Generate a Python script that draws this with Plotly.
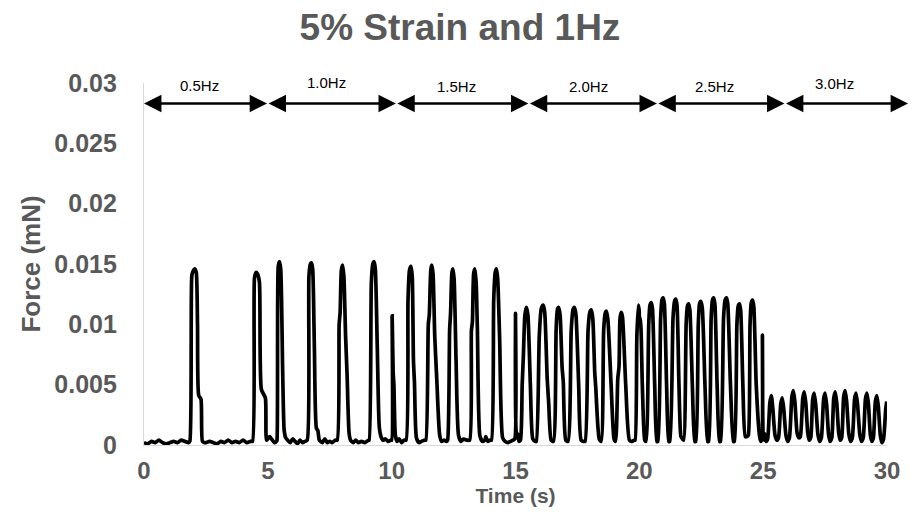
import plotly.graph_objects as go

# Force trace (mN) against time (s), one list of (t, F) samples per stimulation band
band_05hz = [
    (0.00, 0.0002), (0.15, 0.0001), (0.30, 0.0003), (0.45, 0.0002), (0.60, 0.0004),
    (0.75, 0.0002), (0.90, 0.0001), (1.05, 0.0002), (1.20, 0.0003), (1.35, 0.0002),
    (1.50, 0.0004), (1.65, 0.0003), (1.80, 0.0002), (1.85, 0.0003), (1.93, 0.0140),
    (1.98, 0.0144), (2.05, 0.0146), (2.11, 0.0143), (2.16, 0.0100), (2.21, 0.0041),
    (2.30, 0.0038), (2.36, 0.0003), (2.45, 0.0002), (2.50, 0.0002), (2.65, 0.0003),
    (2.80, 0.0002), (2.95, 0.0001), (3.10, 0.0003), (3.25, 0.0002), (3.40, 0.0004),
    (3.55, 0.0002), (3.70, 0.0003), (3.85, 0.0002), (4.00, 0.0004), (4.15, 0.0002),
    (4.30, 0.0003), (4.38, 0.0003), (4.46, 0.0138), (4.52, 0.0143), (4.58, 0.0142),
    (4.66, 0.0135), (4.74, 0.0046), (4.90, 0.0039), (4.95, 0.0004),
]

band_10hz = [
    (5.07, 0.0007), (5.15, 0.0005), (5.27, 0.0002), (5.35, 0.0003), (5.37, 0.0004),
    (5.42, 0.0148), (5.47, 0.0152), (5.52, 0.0146), (5.60, 0.0060), (5.66, 0.0012),
    (5.72, 0.0006), (5.80, 0.0004), (5.90, 0.0002), (6.00, 0.0005), (6.10, 0.0003),
    (6.20, 0.0001), (6.30, 0.0004), (6.40, 0.0002), (6.50, 0.0003), (6.59, 0.0004),
    (6.66, 0.0140), (6.72, 0.0150), (6.76, 0.0151), (6.81, 0.0146), (6.88, 0.0080),
    (6.96, 0.0014), (7.02, 0.0012), (7.08, 0.0004), (7.20, 0.0002), (7.30, 0.0005),
    (7.40, 0.0002), (7.50, 0.0003), (7.60, 0.0002), (7.72, 0.0004), (7.80, 0.0004),
    (7.88, 0.0100), (7.92, 0.0110), (7.97, 0.0145), (8.02, 0.0149), (8.07, 0.0140),
    (8.14, 0.0090), (8.20, 0.0058), (8.28, 0.0010), (8.34, 0.0004), (8.45, 0.0002),
    (8.55, 0.0004), (8.65, 0.0002), (8.78, 0.0003), (8.92, 0.0002), (9.06, 0.0004),
    (9.09, 0.0004), (9.18, 0.0135), (9.24, 0.0150), (9.29, 0.0152), (9.34, 0.0146),
    (9.42, 0.0080), (9.50, 0.0015), (9.57, 0.0007), (9.65, 0.0004), (9.75, 0.0005),
    (9.85, 0.0003), (9.97, 0.0004),
]

band_15hz = [
    (10.00, 0.0004), (10.02, 0.0107), (10.06, 0.0060), (10.09, 0.0050), (10.15, 0.0008),
    (10.22, 0.0003), (10.30, 0.0005), (10.40, 0.0002), (10.50, 0.0004), (10.58, 0.0004),
    (10.66, 0.0120), (10.72, 0.0145), (10.78, 0.0148), (10.83, 0.0140), (10.88, 0.0070),
    (10.92, 0.0052), (11.00, 0.0006), (11.10, 0.0002), (11.20, 0.0003), (11.34, 0.0004),
    (11.38, 0.0004), (11.48, 0.0100), (11.52, 0.0108), (11.58, 0.0145), (11.62, 0.0149),
    (11.67, 0.0142), (11.74, 0.0090), (11.82, 0.0055), (11.94, 0.0008), (12.02, 0.0003),
    (12.12, 0.0004), (12.22, 0.0003), (12.26, 0.0004), (12.34, 0.0095), (12.38, 0.0110),
    (12.43, 0.0142), (12.47, 0.0146), (12.52, 0.0138), (12.60, 0.0070), (12.70, 0.0008),
    (12.80, 0.0003), (12.90, 0.0005), (13.05, 0.0004), (13.15, 0.0004), (13.22, 0.0095),
    (13.26, 0.0102), (13.31, 0.0142), (13.36, 0.0146), (13.41, 0.0135), (13.46, 0.0097),
    (13.56, 0.0008), (13.66, 0.0003), (13.76, 0.0004), (13.80, 0.0007), (13.88, 0.0003),
    (13.98, 0.0004), (14.03, 0.0004), (14.12, 0.0120), (14.18, 0.0143), (14.23, 0.0146),
    (14.28, 0.0138), (14.36, 0.0088), (14.48, 0.0006), (14.58, 0.0003), (14.70, 0.0002),
    (14.80, 0.0003), (14.90, 0.0004), (14.97, 0.0005),
]

band_20hz = [
    (15.00, 0.0109), (15.04, 0.0010), (15.09, 0.0009), (15.14, 0.0003), (15.20, 0.0004),
    (15.27, 0.0050), (15.32, 0.0075), (15.38, 0.0108), (15.44, 0.0114), (15.50, 0.0108),
    (15.60, 0.0050), (15.70, 0.0005), (15.80, 0.0003), (15.84, 0.0003), (15.96, 0.0090),
    (16.04, 0.0113), (16.12, 0.0116), (16.18, 0.0110), (16.28, 0.0055), (16.34, 0.0035),
    (16.44, 0.0004), (16.53, 0.0003), (16.64, 0.0095), (16.69, 0.0112), (16.74, 0.0114),
    (16.80, 0.0108), (16.88, 0.0065), (16.93, 0.0052), (17.03, 0.0004), (17.12, 0.0003),
    (17.25, 0.0095), (17.32, 0.0112), (17.38, 0.0114), (17.44, 0.0108), (17.55, 0.0050),
    (17.65, 0.0004), (17.75, 0.0003), (17.81, 0.0003), (17.93, 0.0095), (18.00, 0.0110),
    (18.06, 0.0112), (18.12, 0.0105), (18.20, 0.0060), (18.24, 0.0048), (18.38, 0.0005),
    (18.46, 0.0003), (18.56, 0.0095), (18.62, 0.0109), (18.67, 0.0111), (18.73, 0.0104),
    (18.86, 0.0050), (18.98, 0.0005), (19.04, 0.0003), (19.13, 0.0055), (19.18, 0.0065),
    (19.22, 0.0105), (19.27, 0.0110), (19.32, 0.0106), (19.45, 0.0050), (19.60, 0.0004),
    (19.70, 0.0003), (19.80, 0.0004), (19.83, 0.0004), (19.90, 0.0090), (19.96, 0.0116),
]

band_25hz = [
    (19.99, 0.0112), (20.01, 0.0104), (20.04, 0.0105), (20.12, 0.0050), (20.22, 0.0004),
    (20.27, 0.0003), (20.38, 0.0100), (20.43, 0.0116), (20.48, 0.0118), (20.53, 0.0113),
    (20.62, 0.0050), (20.71, 0.0003), (20.75, 0.0003), (20.86, 0.0105), (20.91, 0.0120),
    (20.96, 0.0122), (21.01, 0.0117), (21.10, 0.0050), (21.19, 0.0003), (21.23, 0.0003),
    (21.36, 0.0105), (21.42, 0.0119), (21.47, 0.0121), (21.52, 0.0116), (21.60, 0.0050),
    (21.68, 0.0007), (21.74, 0.0005), (21.79, 0.0004), (21.89, 0.0100), (21.94, 0.0115),
    (21.99, 0.0117), (22.04, 0.0112), (22.14, 0.0050), (22.24, 0.0003), (22.28, 0.0003),
    (22.38, 0.0100), (22.43, 0.0117), (22.48, 0.0119), (22.54, 0.0114), (22.65, 0.0050),
    (22.76, 0.0003), (22.80, 0.0003), (22.90, 0.0105), (22.95, 0.0120), (23.00, 0.0122),
    (23.05, 0.0117), (23.14, 0.0050), (23.24, 0.0003), (23.28, 0.0003), (23.40, 0.0105),
    (23.46, 0.0120), (23.52, 0.0122), (23.57, 0.0117), (23.68, 0.0050), (23.80, 0.0003),
    (23.84, 0.0003), (23.94, 0.0100), (23.99, 0.0115), (24.04, 0.0117), (24.09, 0.0112),
    (24.18, 0.0050), (24.28, 0.0007), (24.35, 0.0007), (24.40, 0.0008), (24.47, 0.0100),
    (24.52, 0.0118), (24.57, 0.0120), (24.62, 0.0115), (24.72, 0.0050), (24.85, 0.0008),
    (24.90, 0.0003), (24.95, 0.0005),
]

band_30hz = [
    (24.97, 0.0091), (25.00, 0.0008), (25.04, 0.0004), (25.08, 0.0009), (25.12, 0.0003),
    (25.18, 0.0005), (25.27, 0.0035), (25.33, 0.0041), (25.39, 0.0030), (25.48, 0.0008),
    (25.55, 0.0004), (25.62, 0.0006), (25.71, 0.0034), (25.77, 0.0039), (25.83, 0.0030),
    (25.92, 0.0008), (25.99, 0.0003), (26.06, 0.0006), (26.16, 0.0040), (26.22, 0.0045),
    (26.28, 0.0036), (26.37, 0.0010), (26.44, 0.0006), (26.50, 0.0007), (26.60, 0.0039),
    (26.66, 0.0044), (26.72, 0.0035), (26.80, 0.0010), (26.86, 0.0004), (26.92, 0.0006),
    (27.00, 0.0038), (27.06, 0.0043), (27.12, 0.0034), (27.21, 0.0009), (27.28, 0.0003),
    (27.35, 0.0006), (27.44, 0.0038), (27.50, 0.0043), (27.56, 0.0034), (27.64, 0.0009),
    (27.70, 0.0003), (27.77, 0.0006), (27.85, 0.0039), (27.91, 0.0044), (27.97, 0.0035),
    (28.05, 0.0010), (28.11, 0.0004), (28.17, 0.0006), (28.25, 0.0040), (28.31, 0.0045),
    (28.37, 0.0036), (28.46, 0.0009), (28.53, 0.0003), (28.60, 0.0006), (28.69, 0.0038),
    (28.75, 0.0043), (28.81, 0.0034), (28.90, 0.0009), (28.97, 0.0003), (29.04, 0.0006),
    (29.13, 0.0038), (29.19, 0.0043), (29.25, 0.0034), (29.33, 0.0008), (29.39, 0.0003),
    (29.45, 0.0006), (29.53, 0.0036), (29.59, 0.0041), (29.65, 0.0032), (29.73, 0.0008),
    (29.79, 0.0002), (29.86, 0.0005), (29.95, 0.0030), (29.99, 0.0036),
]

# Stimulation bands: edges in seconds and their labels
band_edges = [-0.06, 4.97, 10.17, 15.52, 20.71, 25.86, 30.85]
band_labels = ["0.5Hz", "1.0Hz", "1.5Hz", "2.0Hz", "2.5Hz", "3.0Hz"]
arrow_level = 0.0283

x_ticks = [0, 5, 10, 15, 20, 25, 30]
y_ticks = [0, 0.005, 0.01, 0.015, 0.02, 0.025, 0.03]
y_tick_text = ["0", "0.005", "0.01", "0.015", "0.02", "0.025", "0.03"]

samples = band_05hz + band_10hz + band_15hz + band_20hz + band_25hz + band_30hz
time_s = [t for t, _ in samples]
force_mn = [f for _, f in samples]

GREY = "#595959"
FONT = "Arial, Liberation Sans, sans-serif"

fig = go.Figure()
fig.add_trace(go.Scatter(
    x=time_s, y=force_mn, mode="lines",
    line=dict(color="black", width=3.7, shape="spline", smoothing=0.6),
    hoverinfo="skip", showlegend=False,
))

# Double-headed arrows spanning each band
for left, right in zip(band_edges[:-1], band_edges[1:]):
    fig.add_annotation(
        x=right, y=arrow_level, ax=left, ay=arrow_level,
        xref="x", yref="y", axref="x", ayref="y",
        text="", showarrow=True, arrowside="end+start",
        arrowhead=2, startarrowhead=2, arrowsize=1.45, startarrowsize=1.45,
        arrowwidth=2.4, arrowcolor="black", standoff=0, startstandoff=0,
    )

# Band labels above the arrows
label_x = [2.25, 7.36, 12.63, 17.93, 23.04, 27.86]
label_px = [85, 82, 87, 87, 87, 83]
for lx, py, txt in zip(label_x, label_px, band_labels):
    fig.add_annotation(
        x=lx, y=(445 - py) / 362, xref="x", yref="paper",
        text=txt, showarrow=False, yanchor="middle", xanchor="center",
        font=dict(family=FONT, size=15, color="black"),
    )

fig.update_layout(
    width=912, height=528,
    margin=dict(l=144, r=22, t=83, b=83),
    paper_bgcolor="white", plot_bgcolor="white",
    title=dict(
        text="5% Strain and 1Hz", x=460 / 912, xanchor="center",
        y=1 - 27 / 528, yanchor="middle",
        font=dict(family=FONT, size=37, color=GREY, weight="bold"),
    ),
    showlegend=False,
)
fig.update_xaxes(
    range=[0, 30], tickvals=x_ticks, ticks="", showgrid=False, zeroline=False,
    showline=True, linecolor="#d9d9d9", linewidth=1.3,
    tickfont=dict(family=FONT, size=24, color=GREY, weight="bold"),
    ticklabelstandoff=4,
    title=dict(text="Time (s)", standoff=0,
               font=dict(family=FONT, size=21, color=GREY, weight="bold")),
)
fig.update_yaxes(
    range=[0, 0.03], tickvals=y_ticks, ticktext=y_tick_text, ticks="",
    showgrid=False, zeroline=False,
    showline=True, linecolor="#d9d9d9", linewidth=1.3,
    tickfont=dict(family=FONT, size=25, color=GREY, weight="bold"),
    ticklabelstandoff=21,
    title=dict(text="Force (mN)", standoff=6,
               font=dict(family=FONT, size=26, color=GREY, weight="bold")),
)

fig.write_html("out.html")
